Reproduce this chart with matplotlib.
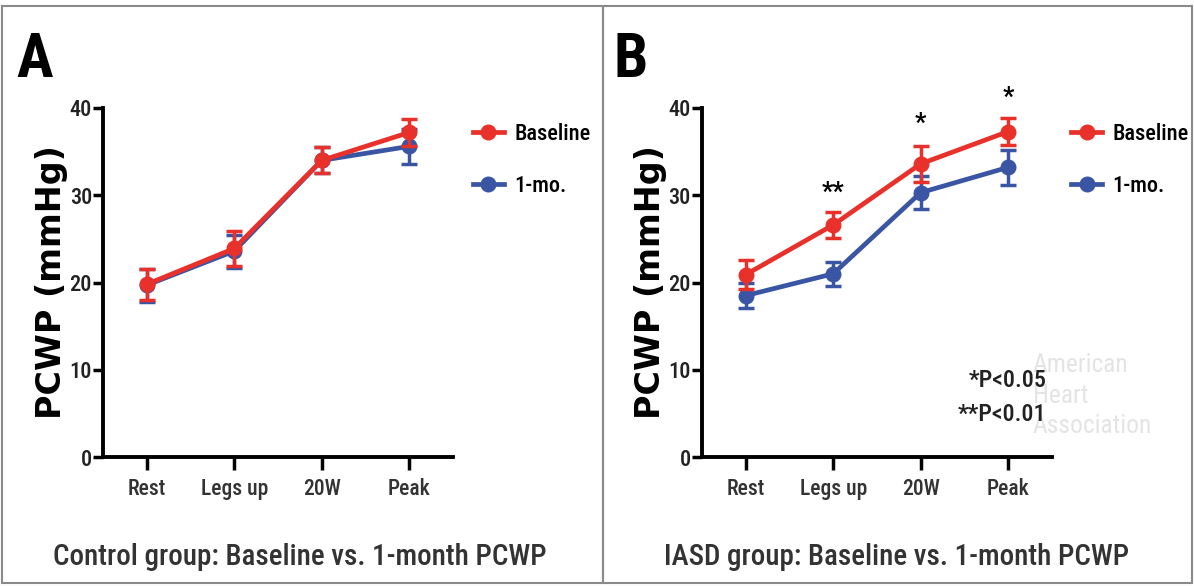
import matplotlib.pyplot as plt
from matplotlib import font_manager
from matplotlib.lines import Line2D
import numpy as np

# pick a condensed face if one is installed, else Arial-like Liberation Sans
names = {f.name for f in font_manager.fontManager.ttflist}
narrow = None
for cand in ["Liberation Sans Narrow", "DejaVu Sans Condensed", "Roboto Condensed",
             "Open Sans Condensed", "Arial Narrow"]:
    if cand in names:
        narrow = cand
        break
body = narrow if narrow else "Liberation Sans"
k = 1.15 if narrow else 1.0
plt.rcParams['font.family'] = [body, 'DejaVu Sans']
plt.rcParams['font.weight'] = 500

# categories
stages = ["Rest", "Legs up", "20W", "Peak"]

# panel A: control group
ctrl_base = [19.8, 23.9, 34.0, 37.2]
ctrl_base_err = [1.8, 2.0, 1.5, 1.5]
ctrl_1mo = [19.7, 23.6, 34.0, 35.6]
ctrl_1mo_err = [1.9, 1.9, 1.5, 2.0]

# panel B: IASD group
iasd_base = [20.9, 26.6, 33.6, 37.3]
iasd_base_err = [1.7, 1.5, 2.1, 1.5]
iasd_1mo = [18.5, 21.0, 30.3, 33.2]
iasd_1mo_err = [1.4, 1.4, 1.9, 2.0]

# significance marks (panel B)
sig_labels = ["", "**", "*", "*"]
sig_y = [None, 30.3, 38.2, 41.2]

red = "#e8312a"
blue = "#3a55a4"

fig = plt.figure(figsize=(11.94, 5.86), dpi=100)

# panel frames
for x0, x1 in [(0.002, 0.505), (0.505, 0.998)]:
    fig.add_artist(plt.Rectangle((x0, 0.005), x1 - x0, 0.985, fill=False,
                                 edgecolor="#8a8a8a", lw=1.5, transform=fig.transFigure))


def draw_panel(left, letter, letx, title, titlex, base, base_err, mo, mo_err, legx):
    ax = fig.add_axes([left, 0.2201, 0.2931, 0.5956])
    x = np.arange(len(stages))
    for vals, errs, col, z in [(mo, mo_err, blue, 3), (base, base_err, red, 4)]:
        ax.errorbar(x, vals, yerr=errs, color=col, lw=3.4, marker="o", ms=10.5,
                    capsize=6, capthick=2.5, elinewidth=2.5, zorder=z, clip_on=False)
    ax.set_xlim(-0.5, 3.5)
    ax.set_ylim(0, 40)
    ax.set_yticks([0, 10, 20, 30, 40])
    ax.set_xticks(x)
    ax.set_xticklabels(stages, fontsize=13.5 * k, color="#333333")
    ax.tick_params(axis="y", labelsize=14 * k, labelcolor="#222222", width=2.5,
                   length=7, direction="out", pad=1)
    ax.tick_params(axis="x", width=2.5, length=9, direction="out", pad=6)
    for s in ["top", "right"]:
        ax.spines[s].set_visible(False)
    for s in ["left", "bottom"]:
        ax.spines[s].set_linewidth(2.8)
    ax.set_ylabel("PCWP (mmHg)", fontsize=24, fontweight="bold",
                  family="DejaVu Sans")
    ax.yaxis.set_label_coords(-0.10, 0.5)
    fig.text(letx, 0.898, letter, fontsize=44, fontweight="bold",
             va="center", ha="left")
    fig.text(titlex, 0.05, title, fontsize=18.2 * k, color="#333333",
             ha="center", va="center")
    handles = [Line2D([], [], color=red, lw=3.4, marker="o", ms=10.5),
               Line2D([], [], color=blue, lw=3.4, marker="o", ms=10.5)]
    fig.legend(handles, ["Baseline", "1-mo."], loc="upper left",
               bbox_to_anchor=(legx, 0.79), frameon=False, fontsize=14 * k,
               borderpad=0, borderaxespad=0, handlelength=1.4,
               handletextpad=0.45, labelspacing=1.35)
    return ax


axA = draw_panel(0.0863, "A", 0.014, "Control group: Baseline vs. 1-month PCWP", 0.251,
                 ctrl_base, ctrl_base_err, ctrl_1mo, ctrl_1mo_err, 0.396)
axB = draw_panel(0.5879, "B", 0.514, "IASD group: Baseline vs. 1-month PCWP", 0.751,
                 iasd_base, iasd_base_err, iasd_1mo, iasd_1mo_err, 0.897)

for i, lab in enumerate(sig_labels):
    if lab:
        axB.text(i, sig_y[i], lab, fontsize=18, fontweight="bold",
                 ha="center", va="center", clip_on=False)

# faint watermark
for txt, yy in [("American", 10.5), ("Heart", 7.0), ("Association", 3.6)]:
    axB.text(3.28, yy, txt, fontsize=16 * k, fontweight="normal", color="#e4e4e4",
             ha="left", va="center", zorder=0, clip_on=False)

axB.text(3.44, 8.8, "*P<0.05", fontsize=15 * k, ha="right", va="center", color="#222222")
axB.text(3.44, 4.9, "**P<0.01", fontsize=15 * k, ha="right", va="center", color="#222222")

fig.savefig("out.png", dpi=100)
